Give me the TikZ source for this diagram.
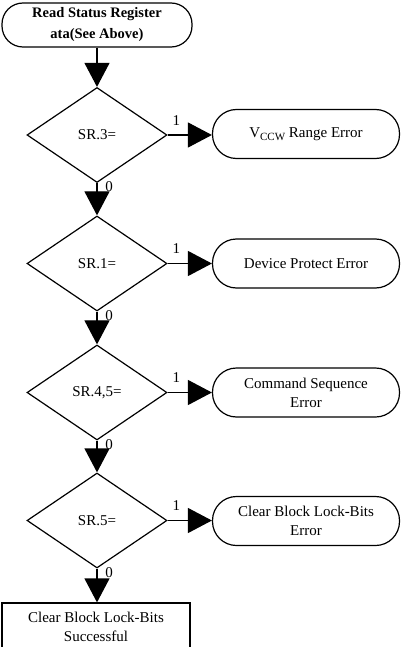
\documentclass[tikz,border=0pt]{standalone}
\usepackage{fontspec}
\setmainfont{Liberation Serif}
\usetikzlibrary{shapes.geometric,arrows.meta}

\begin{document}
\begin{tikzpicture}[
    x=1pt, y=-1pt,
    font=\fontsize{15}{19}\selectfont,
    line width=1.2pt,
    startbox/.style={
      draw,
      rounded corners=21pt,
      minimum width=190pt,
      minimum height=44pt,
      align=center,
      inner sep=1pt,
      font=\fontsize{14.5}{21}\selectfont\bfseries
    },
    errbox/.style={
      draw,
      rounded corners=24pt,
      minimum width=187pt,
      minimum height=49pt,
      align=center
    },
    decision/.style={
      draw,
      diamond,
      minimum width=140pt,
      minimum height=95pt,
      inner sep=0pt
    },
    endbox/.style={
      draw,
      minimum width=188pt,
      minimum height=47pt,
      align=center
    },
    flow/.style={-{Triangle[length=24pt,width=25pt]}},
    yes/.style={pos=0.2, above=6pt},
    no/.style={pos=0.12, right=4.5pt}
  ]
  \useasboundingbox (0,0) rectangle (403,647);

  \node[startbox] (read) at (97,25) {Read Status Register\\ata(See Above)};

  \node[decision] (sr3) at (97,135) {SR.3=};
  \node[decision] (sr1) at (97,263.5) {SR.1=};
  \node[decision] (sr45) at (97,392.5) {SR.4,5=};
  \node[decision] (sr5) at (97,520.5) {SR.5=};

  \node[errbox] (vccerr) at (306,134) {V\raisebox{-3.5pt}{\fontsize{11}{11}\selectfont CCW} Range Error};
  \node[errbox] (proterr) at (306,263.5) {Device Protect Error};
  \node[errbox] (seqerr) at (306,392.5) {Command Sequence\\Error};
  \node[errbox] (lockerr) at (306,521) {Clear Block Lock-Bits\\Error};

  \node[endbox] (done) at (96,626.5) {Clear Block Lock-Bits\\Successful};

  % main path
  \draw[flow] (read) -- (sr3);
  \draw[flow] (sr3) -- node[no] {0} (sr1);
  \draw[flow] (sr1) -- node[no] {0} (sr45);
  \draw[flow] (sr45) -- node[no] {0} (sr5);
  \draw[flow] (sr5.south) -- node[no] {0} (done.north -| sr5.south);

  % error exits
  \draw[flow] (sr3) -- node[yes] {1} (vccerr.west |- sr3);
  \draw[flow] (sr1) -- node[yes] {1} (proterr);
  \draw[flow] (sr45) -- node[yes] {1} (seqerr);
  \draw[flow] (sr5) -- node[yes] {1} (lockerr.west |- sr5);
\end{tikzpicture}
\end{document}
